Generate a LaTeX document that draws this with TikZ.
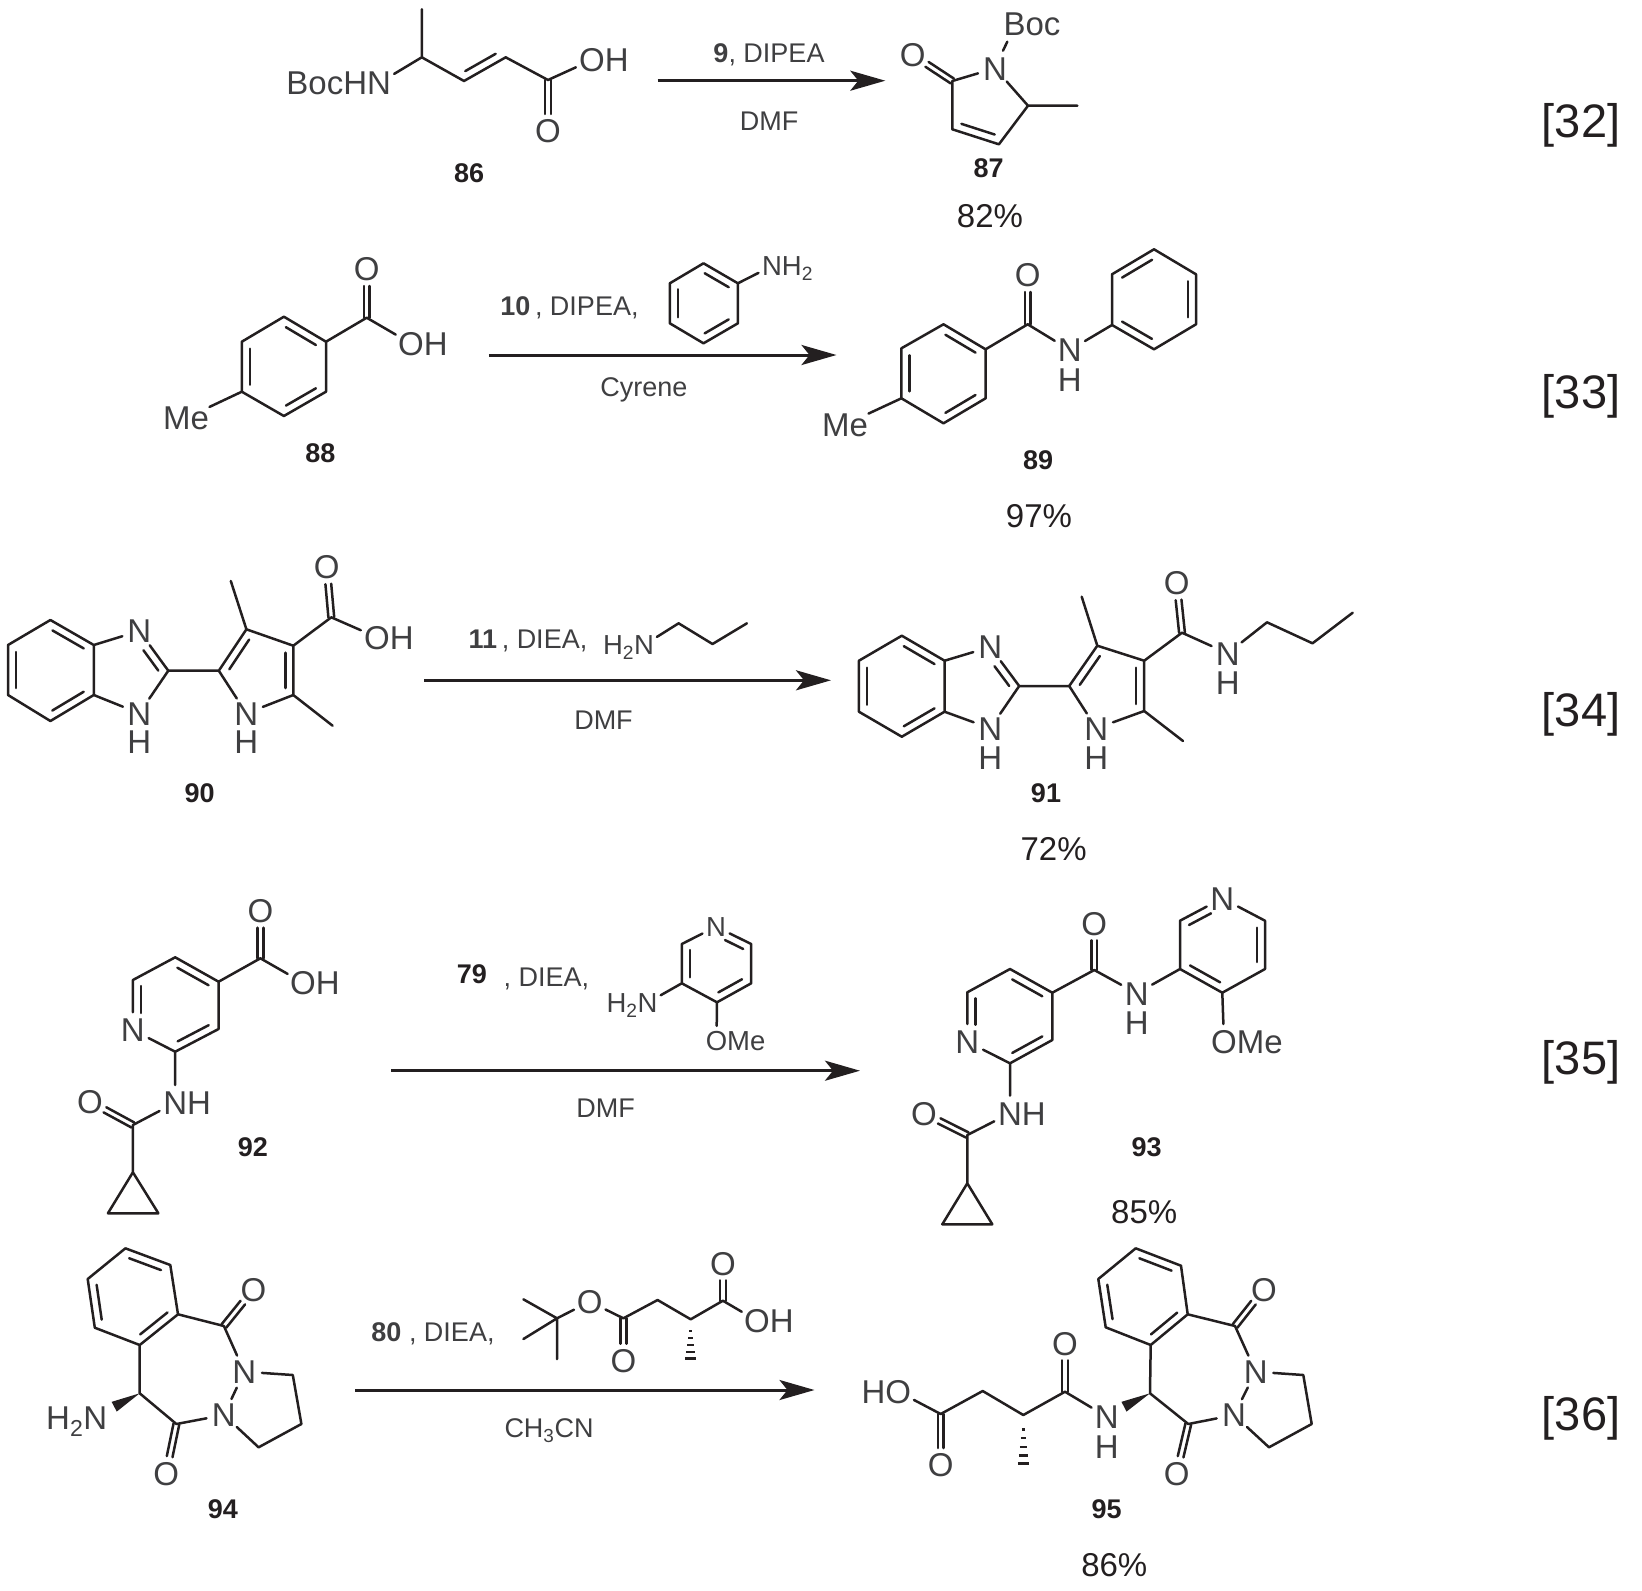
\documentclass[tikz,border=0pt]{standalone}
\usepackage{fontspec}
\setmainfont{Liberation Sans}
\usetikzlibrary{calc,arrows.meta}
\definecolor{ink}{HTML}{231F20}
\definecolor{atomgray}{HTML}{3F3F41}
\tikzset{
  bond/.style={draw=ink,line width=2.5pt,line join=round,line cap=round},
  rxn/.style={draw=ink,line width=3pt,-{Stealth[length=35pt,width=20pt,inset=8pt]}},
  atom/.style={circle,inner sep=0pt,minimum size=35pt,text=atomgray,font=\fontsize{33}{33}\selectfont,text height=23.6pt,text depth=0pt},
  hatom/.style={inner sep=0pt,text=atomgray,font=\fontsize{33}{33}\selectfont,text height=23.6pt,text depth=0pt},
  atomsm/.style={circle,inner sep=0pt,minimum size=30pt,text=atomgray,font=\fontsize{27.5}{27.5}\selectfont,text height=19.7pt,text depth=0pt},
  rgt/.style={inner sep=0pt,text=atomgray,font=\fontsize{27}{27}\selectfont,text height=19.3pt,text depth=0pt},
  cpd/.style={inner sep=0pt,text=ink,font=\fontsize{27}{27}\selectfont\bfseries,text height=19.3pt,text depth=0pt},
  yield/.style={inner sep=0pt,text=ink,font=\fontsize{33}{33}\selectfont,text height=23.6pt,text depth=0pt},
  eqn/.style={inner sep=0pt,text=ink,font=\fontsize{47}{47}\selectfont,text height=33.6pt,text depth=0pt}
}
\newcommand\pts[1]{\foreach \n/\px/\py in {#1}{\coordinate (\n) at (\px,\py);}}
% inner line of a ring/chain double bond, on the left of a->b
\newcommand\inr[4]{\draw[bond,shorten <=#3pt,shorten >=#4pt] ($(#1)!8pt!90:(#2)$) -- ($(#2)!8pt!-90:(#1)$);}
% symmetric double bond a=b, stopping #3 before b
\newcommand\twin[3]{\draw[bond,shorten >=#3pt] ($(#1)!2.9pt!90:(#2)$) -- ($(#2)!2.9pt!-90:(#1)$);
  \draw[bond,shorten >=#3pt] ($(#1)!2.9pt!-90:(#2)$) -- ($(#2)!2.9pt!90:(#1)$);}
\newcommand\wdg[2]{\fill[ink] (#1) -- ($(#2)!5.5pt!90:(#1)$) -- ($(#2)!5.5pt!-90:(#1)$) -- cycle;}
\newcommand\hsh[2]{\foreach \t/\w in {.3/1.5,.48/2.5,.66/3.5,.84/4.5,1/5.5}{\draw[ink,line width=2.5pt] ($(#1)!\t!(#2)$) +(-\w pt,0) -- +(\w pt,0);}}
\begin{document}
\begin{tikzpicture}[x=1pt,y=-1pt]
\useasboundingbox (0,0) rectangle (1642,1591);
% ---------- [32]
\node[atom] (n86) at (379,83) {\llap{BocH}N};
\node[atom] (oh86) at (592,60) {O\rlap{H}};
\node[atom] (o86) at (548,131) {O};
\pts{m86/421.8/9.3,a86/421.8/57.3,b86/464/81,c86/505.7/57.3,d86/548/80}
\draw[bond] (m86)--(a86)--(n86) (a86)--(b86)--(c86)--(d86)--(oh86);
\inr{b86}{c86}{6}{7}
\twin{d86}{o86}{17}
\node[cpd] (l86) at (469.2,172.5) {86};
\pts{s32/657.7/80.7,e32/885.3/80.7}
\draw[rxn] (s32)--(e32);
\node[rgt] (r32a) at (769,53) {\textbf{9}, DIPEA};
\node[rgt] (r32b) at (769,121) {DMF};
\node[atom] (n87) at (995,68.3) {N};
\node[atom] (o87) at (912.8,55) {O};
\node[atom] (boc) at (1032,24) {Boc};
\pts{a87/952.3/81,b87/952.3/129.3,c87/998.9/144.3,d87/1028/105.7,m87/1077.4/105.7,q87/1007.3/41.7,r87/1003/50.7}
\draw[bond] (n87)--(a87)--(b87)--(c87)--(d87)--(n87) (d87)--(m87) (q87)--(r87);
\twin{a87}{o87}{17}
\inr{b87}{c87}{7}{7}
\node[cpd] (l87) at (988.6,167.5) {87};
\node[yield] (y87) at (990,215.5) {82\%};
\node[eqn] (q32) at (1581,120.5) {[32]};
% ---------- [33]
\node[atom] (o88) at (366.7,269) {O};
\node[atom] (oh88) at (411,343.5) {O\rlap{H}};
\node[atom] (me88) at (186,418) {Me};
\pts{c88/366.7/317.7,a88/326/341.7,b88/283.9/316.7,d88/241.8/341.7,e88/241.8/391.7,f88/283.9/416,g88/326/391.7}
\draw[bond] (a88)--(b88)--(d88)--(e88)--(f88)--(g88)--(a88) (a88)--(c88)--(oh88) (e88)--(me88);
\twin{c88}{o88}{17}
\inr{a88}{b88}{7}{7}\inr{d88}{e88}{7}{7}\inr{f88}{g88}{7}{7}
\node[cpd] (l88) at (320.4,452.5) {88};
\pts{s33/488.8/355,e33/836.5/355}
\draw[rxn] (s33)--(e33);
\node[rgt] (r33a) at (569.5,305.5) {\textbf{10}\hspace{-3pt} , DIPEA,};
\node[rgt] (r33b) at (644,386.5) {Cyrene};
\node[atomsm] (nh2) at (772,266) {N\rlap{H\textsubscript{2}}};
\pts{a33/703.5/263.3,b33/737.9/283.3,c33/737.9/323.3,d33/703.5/343.3,f33/669.8/323.3,g33/669.8/283.3}
\draw[bond] (a33)--(b33)--(c33)--(d33)--(f33)--(g33)--(a33) (b33)--(nh2);
\inr{b33}{a33}{6}{6}\inr{g33}{f33}{6}{6}\inr{d33}{c33}{6}{6}
\node[atom] (o89) at (1027.7,275) {O};
\node[atom] (n89) at (1069.8,350) {N};
\node[hatom] (h89) at (1069.8,380) {H};
\node[atom] (me89) at (845,424.5) {Me};
\pts{c89/1027.7/324.3,a89/985.6/349.3,b89/943.5/324.3,d89/901.4/348.3,e89/901.4/398.3,f89/943.5/423.3,g89/985.6/398.3}
\draw[bond] (a89)--(b89)--(d89)--(e89)--(f89)--(g89)--(a89) (a89)--(c89)--(n89) (e89)--(me89);
\twin{c89}{o89}{17}
\inr{a89}{b89}{7}{7}\inr{d89}{e89}{7}{7}\inr{f89}{g89}{7}{7}
\pts{p1/1112/325,p2/1154/349.3,p3/1196/324.3,p4/1196/274.3,p5/1154/249.3,p6/1112/274.3}
\draw[bond] (n89)--(p1)--(p2)--(p3)--(p4)--(p5)--(p6)--(p1);
\inr{p5}{p6}{7}{7}\inr{p1}{p2}{7}{7}\inr{p3}{p4}{7}{7}
\node[cpd] (l89) at (1038.2,459.5) {89};
\node[yield] (y89) at (1039,515.5) {97\%};
\node[eqn] (q33) at (1581,391.7) {[33]};
% ---------- [34]
\node[atom] (na90) at (139.3,631) {N};
\node[atom] (nb90) at (139.3,713.3) {N};
\node[hatom] (hb90) at (139.3,741.7) {H};
\node[atom] (nc90) at (246.4,713.3) {N};
\node[hatom] (hc90) at (246.4,741.7) {H};
\node[atom] (o90) at (326.8,567) {O};
\node[atom] (oh90) at (377,637.3) {O\rlap{H}};
\pts{t1/50.4/620,t2/8/645,t3/8/695,t4/50.4/721,t5/93.8/695,t6/93.8/645,t7/168.3/670.7,t8/218.8/670.7,t9/246.4/629.3,t10/293.3/645.7,t11/293.3/695,t12/230.8/581,t13/332.6/725.7,t14/331.3/617.3}
\draw[bond] (t1)--(t2)--(t3)--(t4)--(t5)--(t6)--(t1) (t6)--(na90)--(t7)--(nb90)--(t5) (t7)--(t8)--(t9)--(t10)--(t11)--(nc90)--(t8) (t9)--(t12) (t11)--(t13) (t10)--(t14)--(oh90);
\inr{t2}{t3}{7}{7}\inr{t4}{t5}{7}{7}\inr{t6}{t1}{7}{7}
\inr{t7}{na90}{6}{18}
\inr{t9}{t8}{7}{7}\inr{t11}{t10}{7}{7}
\twin{t14}{o90}{17}
\node[cpd] (l90) at (199.6,793) {90};
\pts{s34/424/680.3,e34/831/680.3}
\draw[rxn] (s34)--(e34);
\node[rgt] (r34a) at (528,639) {\textbf{11}\hspace{-3pt} , DIEA,};
\node[rgt] (r34b) at (603.5,719.5) {DMF};
\node[atomsm] (n34) at (644,645) {\llap{H\textsubscript{2}}N};
\pts{u1/678.6/623.3,u2/712.5/644,u3/746.9/623.3}
\draw[bond] (n34)--(u1)--(u2)--(u3);
\node[atom] (na91) at (990.2,647) {N};
\node[atom] (nb91) at (990.2,728.3) {N};
\node[hatom] (hb91) at (990.2,757.3) {H};
\node[atom] (nc91) at (1096.4,728.3) {N};
\node[hatom] (hc91) at (1096.4,757.3) {H};
\node[atom] (o91) at (1176.8,583) {O};
\node[atom] (nd91) at (1227.7,653.3) {N};
\node[hatom] (hd91) at (1227.7,682.7) {H};
\pts{v1/901.8/635.7,v2/858.9/660.7,v3/858.9/711.7,v4/901.8/736.7,v5/944.6/711.7,v6/944.6/660.7,v7/1019.2/686,v8/1069.2/686,v9/1097.3/645.7,v10/1144.2/660.7,v11/1144.2/711,v12/1081.7/596.7,v13/1183/741,v14/1182/632.7,v15/1267/622.3,v16/1312.5/643.3,v17/1352.7/612.7}
\draw[bond] (v1)--(v2)--(v3)--(v4)--(v5)--(v6)--(v1) (v6)--(na91)--(v7)--(nb91)--(v5) (v7)--(v8)--(v9)--(v10)--(v11)--(nc91)--(v8) (v9)--(v12) (v11)--(v13) (v10)--(v14)--(nd91)--(v15)--(v16)--(v17);
\inr{v2}{v3}{7}{7}\inr{v4}{v5}{7}{7}\inr{v6}{v1}{7}{7}
\inr{v7}{na91}{6}{18}
\inr{v9}{v8}{7}{7}\inr{v11}{v10}{7}{7}
\twin{v14}{o91}{17}
\node[cpd] (l91) at (1046,793) {91};
\node[yield] (y91) at (1053.6,848.5) {72\%};
\node[eqn] (q34) at (1581,710) {[34]};
% ---------- [35]
\node[atom] (o92) at (260.4,910.7) {O};
\node[atom] (oh92) at (303,982.7) {O\rlap{H}};
\node[atom] (n92) at (132.9,1030) {N};
\node[atom] (nh92) at (175.2,1102.7) {N\rlap{H}};
\node[atom] (oc92) at (90,1101.7) {O};
\pts{w1/260.4/958.3,w2/218.6/981.7,w3/175.2/957.3,w4/132.9/980,w5/175.2/1051.7,w6/218.6/1029,w7/132.9/1125,w8/132.9/1172.3,w9/107.9/1213.3,w10/158.4/1213.3}
\draw[bond] (w2)--(w3)--(w4)--(n92)--(w5)--(w6)--(w2) (w2)--(w1)--(oh92) (w5)--(nh92)--(w7)--(w8) (w8)--(w9)--(w10)--cycle;
\twin{w1}{o92}{17}
\twin{w7}{oc92}{17}
\inr{w4}{n92}{6}{17}\inr{w5}{w6}{7}{7}\inr{w2}{w3}{7}{7}
\node[cpd] (l92) at (252.8,1146.7) {92};
\pts{s35/391/1070.7,e35/860/1070.7}
\draw[rxn] (s35)--(e35);
\node[cpd] (r35n) at (472,974.3) {79};
\node[rgt] (r35a) at (546.4,976.5) {, DIEA,};
\node[rgt] (r35b) at (605.7,1108) {DMF};
\node[atomsm] (n35) at (716,926.7) {N};
\node[atomsm] (nh35) at (647.5,1002.7) {\llap{H\textsubscript{2}}N};
\node[atomsm] (om35) at (716.5,1041) {O\rlap{Me}};
\pts{x1/681.8/944,x2/681.8/983.3,x3/717/1002.3,x4/751.2/983.3,x5/751.2/944}
\draw[bond] (n35)--(x1)--(x2)--(x3)--(x4)--(x5)--(n35) (x2)--(nh35) (x3)--(om35);
\inr{x1}{x2}{6}{6}\inr{x3}{x4}{6}{6}\inr{x5}{n35}{5}{14}
\node[atom] (o93) at (1094.3,923.3) {O};
\node[atom] (n93) at (967.3,1041.7) {N};
\node[atom] (nh93) at (1136.7,993.3) {N};
\node[hatom] (h93) at (1136.7,1022.7) {H};
\node[atom] (py93) at (1222.3,898.3) {N};
\node[atom] (om93) at (1224,1041.7) {O\rlap{Me}};
\node[atom] (nl93) at (1010,1113.3) {N\rlap{H}};
\node[atom] (oc93) at (924,1113.3) {O};
\pts{y1/1094.3/970,y2/1052.3/992.7,y3/1010/969,y4/967.3/992.3,y5/1010/1063.3,y6/1052.3/1040,y7/1180/969,y8/1180/920.7,y9/1265/920.7,y10/1265/969,y11/1222.3/992.7,y12/967.3/1135,y13/967.3/1183.3,y14/942.3/1224.3,y15/992.3/1224.3}
\draw[bond] (y2)--(y3)--(y4)--(n93)--(y5)--(y6)--(y2) (y2)--(y1)--(nh93)--(y7)--(y8)--(py93)--(y9)--(y10)--(y11)--(y7) (y11)--(om93) (y5)--(nl93)--(y12)--(y13) (y13)--(y14)--(y15)--cycle;
\twin{y1}{o93}{17}
\twin{y12}{oc93}{17}
\inr{y4}{n93}{6}{17}\inr{y5}{y6}{7}{7}\inr{y2}{y3}{7}{7}
\inr{py93}{y8}{17}{6}\inr{y7}{y11}{7}{7}\inr{y10}{y9}{7}{7}
\node[cpd] (l93) at (1146.7,1146.7) {93};
\node[yield] (y93) at (1144.2,1211.7) {85\%};
\node[eqn] (q35) at (1581,1058) {[35]};
% ---------- [36]
\node[atom] (oa94) at (253.5,1289.3) {O};
\node[atom] (na94) at (244.3,1371.7) {N};
\node[atom] (nb94) at (223.9,1415) {N};
\node[atom] (ob94) at (166.2,1473.3) {O};
\node[atom] (nh94) at (95.3,1417.3) {\llap{H\textsubscript{2}}N};
\pts{z1/125.4/1248.3,z2/170.3/1265,z3/178/1314.3,z4/139.7/1345,z5/94.8/1327.7,z6/87.7/1279,z7/223.9/1326,z8/139.7/1393.3,z9/176.4/1424,z10/292.8/1375,z11/301.4/1424,z12/258.6/1447.3,z13/114.2/1406.7}
\draw[bond] (z1)--(z2)--(z3)--(z4)--(z5)--(z6)--(z1) (z3)--(z7)--(na94)--(nb94)--(z9)--(z8)--(z4) (na94)--(z10)--(z11)--(z12)--(nb94);
\inr{z2}{z1}{7}{7}\inr{z6}{z5}{7}{7}\inr{z4}{z3}{7}{7}
\twin{z7}{oa94}{17}
\twin{z9}{ob94}{17}
\wdg{z8}{z13}
\node[cpd] (l94) at (222.9,1508.5) {94};
\pts{s36/355/1390,e36/814.5/1390}
\draw[rxn] (s36)--(e36);
\node[rgt] (r36a) at (433,1331.5) {\textbf{80} , DIEA,};
\node[rgt] (r36b) at (549,1428) {CH\textsubscript{3}CN};
\node[atom] (oe36) at (589.7,1301.7) {O};
\node[atom] (oc36) at (623.4,1360.7) {O};
\node[atom] (oa36) at (722.9,1263.3) {O};
\node[atom] (oh36) at (757,1320.7) {O\rlap{H}};
\pts{k0/557/1318.3,k1/523.4/1299.3,k2/523.4/1339,k3/557/1359,k4/623.4/1318.3,k5/657.6/1300,k6/690.7/1319.3,k7/690.7/1358.3,k8/722.9/1300.7}
\draw[bond] (k1)--(k0)--(k3) (k2)--(k0)--(oe36)--(k4)--(k5)--(k6)--(k8)--(oh36);
\twin{k4}{oc36}{17}
\twin{k8}{oa36}{17}
\hsh{k6}{k7}
\node[atom] (oa95) at (1264,1289.3) {O};
\node[atom] (na95) at (1255.7,1371.7) {N};
\node[atom] (nb95) at (1234,1415) {N};
\node[atom] (ob95) at (1176.7,1473.3) {O};
\node[atom] (nh95) at (1106.7,1416.7) {N};
\node[hatom] (hh95) at (1106.7,1446.7) {H};
\node[atom] (oc95) at (1065,1343.3) {O};
\node[atom] (od95) at (940.7,1465) {O};
\node[atom] (ho95) at (898.3,1391.7) {\llap{H}O};
\pts{g1/1135.7/1248.3,g2/1181/1265.7,g3/1187.7/1314.3,g4/1150.7/1345,g5/1105.7/1327.3,g6/1098.3/1279,g7/1235/1326,g8/1150/1393.3,g9/1188.3/1424,g10/1303.3/1375,g11/1311.7/1424,g12/1269/1447.3,g13/1124/1406.7,g14/1065/1391.7,g15/1023.3/1415,g16/1023.3/1463.3,g17/982.7/1391,g18/940.7/1414}
\draw[bond] (g1)--(g2)--(g3)--(g4)--(g5)--(g6)--(g1) (g3)--(g7)--(na95)--(nb95)--(g9)--(g8)--(g4) (na95)--(g10)--(g11)--(g12)--(nb95) (nh95)--(g14)--(g15)--(g17)--(g18)--(ho95);
\inr{g2}{g1}{7}{7}\inr{g6}{g5}{7}{7}\inr{g4}{g3}{7}{7}
\twin{g7}{oa95}{17}
\twin{g9}{ob95}{17}
\twin{g14}{oc95}{17}
\twin{g18}{od95}{17}
\wdg{g8}{g13}
\hsh{g15}{g16}
\node[cpd] (l95) at (1106.7,1508.5) {95};
\node[yield] (y95) at (1114.3,1564.5) {86\%};
\node[eqn] (q36) at (1581,1414) {[36]};
\end{tikzpicture}
\end{document}
